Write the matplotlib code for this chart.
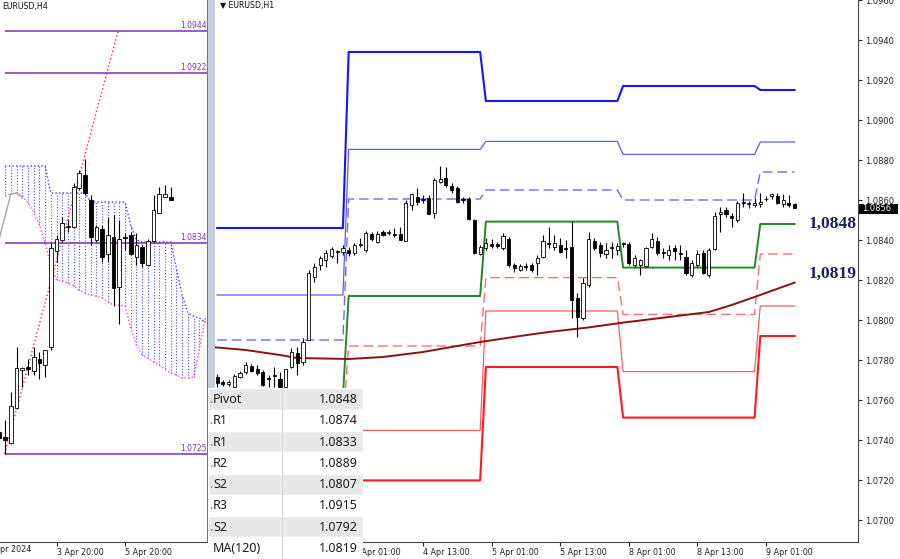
import matplotlib
matplotlib.use('Agg')
import matplotlib.pyplot as plt
import numpy as np
from matplotlib.patches import Rectangle

W, H = 900, 559

# ---------------- H1 panel (right), bar 0 = 4 Apr 01:00 ----------------
h1_first = -24
h1_open = [
    1.07715, 1.0769, 1.0768, 1.07665, 1.07715, 1.0774, 1.0777, 1.07755, 1.0774, 1.0771,
    1.07725, 1.07705, 1.07665, 1.07765, 1.07835, 1.0779, 1.0790, 1.08215, 1.08275, 1.0830,
    1.0832, 1.0834, 1.0834, 1.0835,
    1.08335, 1.08375, 1.0835, 1.0843, 1.0839, 1.0844, 1.08435, 1.0843, 1.0843, 1.08395,
    1.08575, 1.08615, 1.08605, 1.0861, 1.08535, 1.0869, 1.0871, 1.0867, 1.0866, 1.08605,
    1.08605, 1.0850, 1.0833,
    1.0836, 1.0838, 1.0838, 1.0836, 1.08405, 1.08275, 1.0825, 1.0827, 1.08275, 1.08285,
    1.08315, 1.08385, 1.08365, 1.08375, 1.0836, 1.08365, 1.0811, 1.0801, 1.08175, 1.08395,
    1.08375, 1.0833, 1.08365, 1.0835,
    1.08385, 1.0838, 1.08275, 1.08275, 1.0827, 1.08365, 1.08395, 1.0834, 1.08325, 1.0836,
    1.08335, 1.08315, 1.08225, 1.08275, 1.08335, 1.08225, 1.08355, 1.0853, 1.0855, 1.0852,
    1.0850, 1.0859, 1.0858, 1.08575,
    1.0858, 1.08605, 1.0862, 1.0862, 1.0858, 1.08585, 1.0858]
h1_high = [
    1.0773, 1.0770, 1.0770, 1.0773, 1.07745, 1.0779, 1.0778, 1.07775, 1.0775, 1.07725,
    1.07765, 1.0774, 1.07755, 1.0786, 1.07865, 1.0791, 1.0825, 1.08285, 1.0832, 1.0835,
    1.08365, 1.0835, 1.08375, 1.08365,
    1.08385, 1.0841, 1.08445, 1.0844, 1.08445, 1.0845, 1.0845, 1.0846, 1.08465, 1.0860,
    1.08635, 1.0866, 1.08625, 1.08625, 1.0871, 1.0877, 1.08765, 1.08685, 1.0867, 1.08615,
    1.08615, 1.08505, 1.08375,
    1.0841, 1.08405, 1.0839, 1.08435, 1.08415, 1.08285, 1.0828, 1.08285, 1.08285, 1.08325,
    1.08425, 1.08465, 1.08425, 1.0841, 1.0840, 1.08495, 1.08135, 1.0821, 1.0844, 1.0841,
    1.0839, 1.08385, 1.0839, 1.08385,
    1.0839, 1.0839, 1.08325, 1.08305, 1.08365, 1.08435, 1.08415, 1.0836, 1.08375, 1.08375,
    1.08375, 1.0835, 1.0830, 1.0835, 1.0835, 1.0836, 1.0854, 1.08565, 1.08565, 1.08535,
    1.08595, 1.08635, 1.08595, 1.0861,
    1.08635, 1.0862, 1.08635, 1.08635, 1.0863, 1.08625, 1.08585]
h1_low = [
    1.07665, 1.0767, 1.0767, 1.07655, 1.0771, 1.0773, 1.0774, 1.07725, 1.0767, 1.07665,
    1.07665, 1.0765, 1.0766, 1.0776, 1.07725, 1.07775, 1.0790, 1.0819, 1.0825, 1.08265,
    1.0831, 1.08285, 1.08325, 1.0832,
    1.08325, 1.08365, 1.0834, 1.08395, 1.08385, 1.0842, 1.08425, 1.08415, 1.0840, 1.08395,
    1.0855, 1.08575, 1.08585, 1.0853, 1.0851, 1.08685, 1.08665, 1.08635, 1.08585, 1.08585,
    1.0850, 1.0833, 1.08325,
    1.0835, 1.0836, 1.0836, 1.0835, 1.08265, 1.0824, 1.08245, 1.0825, 1.0824, 1.08225,
    1.0831, 1.0836, 1.0835, 1.08335, 1.0831, 1.0801, 1.07915, 1.0800, 1.08165, 1.0835,
    1.08315, 1.0831, 1.0831, 1.08325,
    1.08365, 1.08275, 1.08265, 1.08225, 1.08265, 1.0836, 1.08325, 1.0831, 1.0830, 1.0830,
    1.0830, 1.08225, 1.08215, 1.08265, 1.0823, 1.08215, 1.0835, 1.0844, 1.08515, 1.08465,
    1.0849, 1.08565, 1.0856, 1.08565,
    1.08565, 1.08595, 1.08605, 1.0858, 1.08565, 1.08565, 1.0856]
h1_close = [
    1.07685, 1.0768, 1.0769, 1.0772, 1.07735, 1.07775, 1.07745, 1.07735, 1.07675, 1.07705,
    1.0772, 1.07665, 1.07755, 1.0784, 1.07785, 1.0789, 1.08235, 1.08265, 1.0831, 1.08335,
    1.08355, 1.08345, 1.0836, 1.08335,
    1.08375, 1.0838, 1.08435, 1.08405, 1.0843, 1.08425, 1.0844, 1.08425, 1.0840, 1.08585,
    1.0863, 1.0859, 1.0860, 1.0853, 1.0870, 1.08705, 1.08675, 1.0865, 1.0859, 1.0860,
    1.08505, 1.08335, 1.08365,
    1.08385, 1.0837, 1.0837, 1.0842, 1.08275, 1.0826, 1.0827, 1.08265, 1.0825, 1.0831,
    1.08395, 1.0838, 1.08385, 1.0834, 1.08355, 1.0810, 1.08015, 1.08185, 1.08405, 1.0836,
    1.08335, 1.0835, 1.0836, 1.0837,
    1.0838, 1.08285, 1.0831, 1.0830, 1.0836, 1.08405, 1.08335, 1.08335, 1.0835, 1.08345,
    1.0833, 1.08235, 1.08285, 1.0833, 1.08235, 1.0835, 1.0852, 1.0854, 1.0853, 1.0851,
    1.08585, 1.08585, 1.08585, 1.08585,
    1.0859, 1.08605, 1.0863, 1.08585, 1.0860, 1.08575, 1.0856]

# daily pivot levels (3, 4, 5, 8, 9 Apr), first bar of each day
day_start = [-24, -1, 23, 47, 71]
lvl_r3 = [1.0846, 1.0934, 1.09095, 1.0917, 1.0915]
lvl_r2 = [1.08125, 1.08853, 1.08893, 1.08828, 1.0889]
lvl_r1 = [1.0790, 1.08605, 1.0865, 1.0860, 1.0874]
lvl_pp = [1.0762, 1.0812, 1.08492, 1.08262, 1.0848]
lvl_s1 = [1.0748, 1.0787, 1.08212, 1.08028, 1.0833]
lvl_s2 = [1.0735, 1.07448, 1.08045, 1.07742, 1.0807]
lvl_s3 = [1.0720, 1.07198, 1.07765, 1.07512, 1.0792]

ma_bar = [-25, -19, -13, -10, -1, 5, 12, 22, 29, 34, 41, 47, 55, 62, 66, 70, 77]
ma_val = [1.07865, 1.0785, 1.07825, 1.0781, 1.07805, 1.07815, 1.0784, 1.0789, 1.0792,
          1.0794, 1.07963, 1.07987, 1.08015, 1.0804, 1.08075, 1.08115, 1.08187]

h1_tick_bars = [0, 12, 24, 36, 48, 60, 72]
h1_tick_labels = ['4 Apr 01:00', '4 Apr 13:00', '5 Apr 01:00', '5 Apr 13:00',
                  '8 Apr 01:00', '8 Apr 13:00', '9 Apr 01:00']
h1_price_ticks = [1.0700, 1.0720, 1.0740, 1.0760, 1.0780, 1.0800, 1.0820, 1.0840,
                  1.0860, 1.0880, 1.0900, 1.0920, 1.0940, 1.0960]
last_price = 1.0856

# ---------------- H4 panel (left), bar 0 = 5 Apr 20:00 ----------------
h4_first = -22
h4_open = [1.07362, 1.07336, 1.07305, 1.07487, 1.07684, 1.07699, 1.07678, 1.0774, 1.07709,
           1.07802, 1.0830, 1.08357, 1.08424, 1.08424, 1.08626, 1.08692, 1.08563, 1.08357,
           1.08413, 1.08284, 1.08372, 1.08113, 1.08372, 1.08382, 1.08269, 1.0832, 1.08227,
           1.08351, 1.08496, 1.08579, 1.08579]
h4_high = [1.0740, 1.07424, 1.0757, 1.07802, 1.0770, 1.0774, 1.07802, 1.07777, 1.07787,
           1.08341, 1.08382, 1.08475, 1.0846, 1.08652, 1.08719, 1.08776, 1.08589, 1.08434,
           1.08434, 1.08475, 1.08486, 1.0846, 1.08392, 1.08398, 1.08392, 1.08331, 1.08362,
           1.08589, 1.0863, 1.0864, 1.0863]
h4_low = [1.0730, 1.0725, 1.0730, 1.07482, 1.07595, 1.07657, 1.07657, 1.07637, 1.07647,
          1.07787, 1.08243, 1.08346, 1.08398, 1.08419, 1.08615, 1.08589, 1.08331, 1.08346,
          1.08243, 1.08243, 1.08015, 1.0792, 1.08305, 1.08279, 1.08227, 1.08217, 1.08222,
          1.08346, 1.08496, 1.08579, 1.08563]
h4_close = [1.07331, 1.0732, 1.07497, 1.07694, 1.07694, 1.07689, 1.0775, 1.07719, 1.07787,
            1.08315, 1.08362, 1.08444, 1.0843, 1.08631, 1.08703, 1.08599, 1.08372, 1.08424,
            1.08269, 1.08382, 1.08108, 1.08362, 1.08367, 1.08284, 1.08331, 1.08237, 1.08351,
            1.08511, 1.08594, 1.08594, 1.08563]

cloud_first = -21
span_blue = [1.0874] * 8 + [1.0860] * 7 + [1.08553] * 7 + [1.08434, 1.08356] + \
            [1.08346] * 6 + [1.08211, 1.08071, 1.07979, 1.07963, 1.07953, 1.07932]
span_pink = [1.08584, 1.08595, 1.0860, 1.08584, 1.08548, 1.08501, 1.08434, 1.08341,
             1.08227, 1.0815, 1.08145, 1.08134, 1.08118, 1.08098, 1.08082, 1.08071,
             1.08066, 1.08056, 1.08035, 1.0802, 1.0802, 1.08015, 1.07901, 1.07813,
             1.07761, 1.07746, 1.07725, 1.0771, 1.07689, 1.07668, 1.07658, 1.07642,
             1.07642, 1.07647, 1.07787, 1.07953]
chikou_bar = [-22, -20, -19, -18]
chikou_val = [1.08367, 1.08595, 1.08600, 1.08574]
fib_bar = [-21.1, -1.2]
fib_val = [1.0725, 1.0944]
h4_levels = [1.0944, 1.0922, 1.0834, 1.0725]
h4_tick_bars = [-12, 0]
h4_tick_labels = ['3 Apr 20:00', '5 Apr 20:00']

table_names = ['Pivot', 'R1', 'R1', 'R2', 'S2', 'R3', 'S2', 'MA(120)']
table_values = ['1.0848', '1.0874', '1.0833', '1.0889', '1.0807', '1.0915', '1.0792', '1.0819']


def fx(x):
    return x / W


def fy(y):
    return 1 - y / H


def draw_candles(ax, first, o, h, l, c, width):
    o, h, l, c = map(np.asarray, (o, h, l, c))
    x = np.arange(first, first + len(o))
    ax.vlines(x, l, h, color='black', lw=0.8, zorder=4)
    bottom = np.minimum(o, c)
    height = np.maximum(np.abs(c - o), 0.00002)
    face = ['white' if cc >= oo else 'black' for oo, cc in zip(o, c)]
    ax.bar(x, height, bottom=bottom, width=width, color=face,
           edgecolor='black', linewidth=0.6, zorder=5)


fig = plt.figure(figsize=(W / 100, H / 100), dpi=100)
fig.patch.set_facecolor('white')

axis_bottom = 541.7

# ---------- left H4 axes ----------
ax1 = fig.add_axes([0, fy(axis_bottom), fx(207), axis_bottom / H])
ax1.set_xlim(-21.9, 14.36)
ax1.set_ylim(1.06795, 1.09599)
for s in ['top', 'left']:
    ax1.spines[s].set_visible(False)
ax1.spines['bottom'].set_color('#444444')
ax1.spines['right'].set_color('#777777')
ax1.spines['bottom'].set_linewidth(0.8)
ax1.set_yticks([])
ax1.set_xticks(h4_tick_bars)
ax1.set_xticklabels(h4_tick_labels)
ax1.tick_params(axis='x', length=3, pad=1.5, labelsize=5.8, colors='#222222')
for t in ax1.get_xticklabels():
    t.set_ha('left')

cb = np.arange(cloud_first, cloud_first + len(span_blue))
ax1.vlines(cb, span_pink, span_blue, color='#4a4aff', lw=0.8,
           linestyles=[(0, (1, 1.6))], zorder=1)
ax1.plot(cb, span_blue, color='#3a3aff', lw=1.0, ls=(0, (1, 1.6)), zorder=2)
ax1.plot(cb, span_pink, color='#ff40ff', lw=1.0, ls=(0, (1, 1.6)), zorder=2)
ax1.plot(chikou_bar, chikou_val, color='#a8a8a8', lw=1.0, zorder=2)
ax1.plot(fib_bar, fib_val, color='#ff2a2a', lw=1.0, ls=(0, (1, 1.8)), zorder=2)
ax1.hlines(h4_levels, -21.1, 14.36, color='#8a3fb5', lw=1.2, zorder=3)
for lev in h4_levels:
    ax1.text(14.25, lev + 0.00006, f'{lev:.4f}', ha='right', va='bottom',
             fontsize=5.5, color='#7a35a8', zorder=6)
draw_candles(ax1, h4_first, h4_open, h4_high, h4_low, h4_close, 0.66)
fig.text(fx(2), fy(6), 'EURUSD,H4', fontsize=5.7, color='#111111', va='center')
fig.text(0, fy(550), 'pr 2024', fontsize=5.8, color='#222222', va='center')

# ---------- right H1 axes ----------
ax2 = fig.add_axes([fx(215), fy(axis_bottom), fx(858 - 215), axis_bottom / H])
ax2.set_xlim(-24.38, 88.09)
ax2.set_ylim(1.068915, 1.0960)
for s in ['top', 'left']:
    ax2.spines[s].set_visible(False)
for s in ['bottom', 'right']:
    ax2.spines[s].set_color('#444444')
    ax2.spines[s].set_linewidth(0.8)
ax2.yaxis.tick_right()
ax2.set_yticks(h1_price_ticks)
ax2.set_yticklabels([f'{v:.4f}' for v in h1_price_ticks])
ax2.tick_params(axis='y', length=3, pad=2, labelsize=6, colors='#222222')
ax2.set_xticks(h1_tick_bars)
ax2.set_xticklabels(h1_tick_labels)
ax2.tick_params(axis='x', length=3, pad=1.5, labelsize=5.8, colors='#222222')
for t in ax2.get_xticklabels():
    t.set_ha('left')

bars = np.arange(h1_first, h1_first + len(h1_open))
day_of_bar = np.searchsorted(day_start, bars, side='right') - 1
pivot_styles = [
    (lvl_r3, '#1414ff', 1.5, '-'),
    (lvl_r2, '#5c5cff', 0.9, '-'),
    (lvl_r1, '#6a6aff', 1.0, (0, (7, 3.5))),
    (lvl_pp, '#1e8c1e', 1.4, '-'),
    (lvl_s1, '#ff6f6f', 1.0, (0, (7, 3.5))),
    (lvl_s2, '#ff5c5c', 0.9, '-'),
    (lvl_s3, '#ff1a1a', 1.5, '-'),
]
for levels, col, lw, ls in pivot_styles:
    ax2.plot(bars, np.asarray(levels)[day_of_bar], color=col, lw=lw, ls=ls, zorder=2)
ax2.plot(ma_bar, ma_val, color='#8b1010', lw=1.4, zorder=3)
draw_candles(ax2, h1_first, h1_open, h1_high, h1_low, h1_close, 0.55)

fig.text(fx(220), fy(5.7), '\u25bc EURUSD,H1', fontsize=5.7, color='#111111', va='center')
fig.text(fx(809), fy(224), '1,0848', fontsize=12.5, family='Liberation Serif',
         weight='bold', color='#1b1f5c', va='center')
fig.text(fx(809), fy(274), '1,0819', fontsize=12.5, family='Liberation Serif',
         weight='bold', color='#1b1f5c', va='center')

# current price tag
fig.patches.append(Rectangle((fx(859), fy(214)), fx(39), 10.5 / H, transform=fig.transFigure,
                             facecolor='black', edgecolor='none', zorder=20))
fig.text(fx(862), fy(208.6), f'{last_price:.4f}', fontsize=6, color='white',
         va='center', zorder=21)

# splitter between the two charts
fig.patches.append(Rectangle((fx(208), 0), fx(7), 1, transform=fig.transFigure,
                             facecolor='#c2cfdd', edgecolor='none', zorder=1))

# ---------- data window table ----------
tab = fig.add_axes([fx(208), 0, fx(155), 171 / H])
tab.set_zorder(10)
tab.set_xlim(0, 155)
tab.set_ylim(171, 0)
tab.set_xticks([])
tab.set_yticks([])
for s in tab.spines.values():
    s.set_visible(False)
row_h = 21.3
col_x = 73.7
for k, (name, val) in enumerate(zip(table_names, table_values)):
    y0 = 0.3 + k * row_h
    fc = '#e8e8e8' if k % 2 == 0 else 'white'
    tab.add_patch(Rectangle((0, y0), col_x, row_h, facecolor=fc, edgecolor='white', lw=1))
    tab.add_patch(Rectangle((col_x, y0), 155 - col_x, row_h, facecolor=fc,
                            edgecolor='white', lw=1))
    tab.plot([col_x, col_x], [y0, y0 + row_h], color='#d4d4d4', lw=0.8)
    if name != 'MA(120)':
        tab.text(0.8, y0 + 14.6, '.', fontsize=9, color='#b07a20', va='baseline',
                 family='Noto Sans')
    tab.text(5, y0 + 14.6, name, fontsize=9, color='#1a1a1a', va='baseline',
             family='Noto Sans')
    tab.text(149.5, y0 + 14.6, val, fontsize=9, color='#1a1a1a', va='baseline',
             ha='right', family='Noto Sans')

fig.savefig('out.png', dpi=100)
